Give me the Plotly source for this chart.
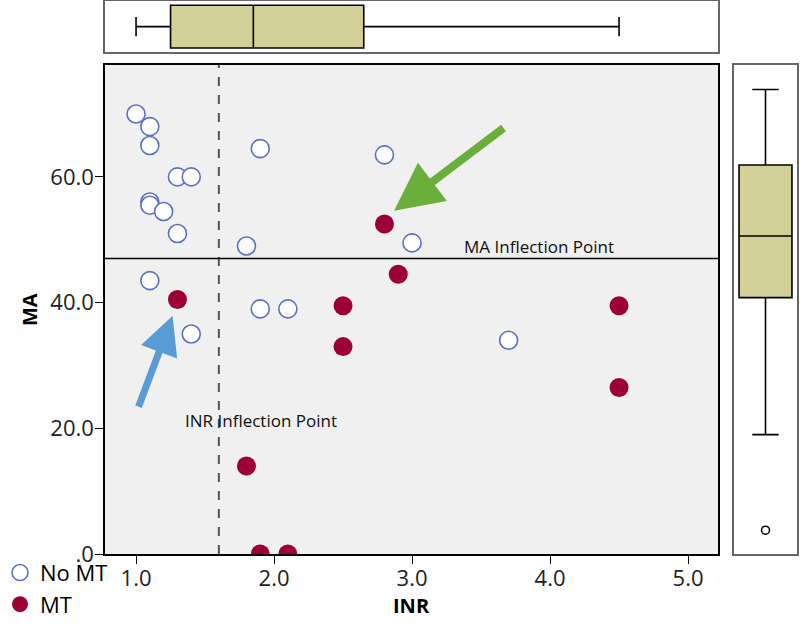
import plotly.graph_objects as go

# scatter data
NO_MT_INR = [1.0, 1.1, 1.1, 1.3, 1.4, 1.1, 1.1, 1.2, 1.3, 1.9, 2.8, 1.8, 3.0, 1.1, 1.4, 1.9, 2.1, 3.7]
NO_MT_MA = [70.0, 68.0, 65.0, 60.0, 60.0, 56.0, 55.5, 54.5, 51.0, 64.5, 63.5, 49.0, 49.5, 43.5, 35.0, 39.0, 39.0, 34.0]
MT_INR = [2.8, 2.9, 1.3, 2.5, 2.5, 1.8, 1.9, 2.1, 4.5, 4.5]
MT_MA = [52.5, 44.5, 40.5, 39.5, 33.0, 14.0, 0.0, 0.0, 39.5, 26.5]

# marginal box plot summaries (lower whisker, q1, median, q3, upper whisker)
INR_BOX = [1.0, 1.25, 1.85, 2.65, 4.5]
MA_BOX = [19.0, 40.8, 50.6, 61.9, 73.9]
MA_OUTLIERS = [3.8]

INR_CUT = 1.6
MA_CUT = 47.0

X_TICKS = [1, 2, 3, 4, 5]
X_TICKTEXT = ["1.0", "2.0", "3.0", "4.0", "5.0"]
Y_TICKS = [0, 20, 40, 60]
Y_TICKTEXT = [".0", "20.0", "40.0", "60.0"]

X_RANGE = [0.775, 5.217]
Y_RANGE = [0, 77.8]

FONT = "Open Sans"
BOX_FILL = "#d3cf99"
OPEN_BLUE = "#5b6fc4"
MT_RED = "#9c0036"

MAIN_X = [0.13125, 0.8975]
MAIN_Y = [0.1164, 0.8963]

fig = go.Figure()

fig.add_trace(go.Scatter(
    x=NO_MT_INR, y=NO_MT_MA, mode="markers", name="No MT",
    marker=dict(size=18, color="white", line=dict(color=OPEN_BLUE, width=1.6)),
))
fig.add_trace(go.Scatter(
    x=MT_INR, y=MT_MA, mode="markers", name="MT",
    marker=dict(size=19, color=MT_RED, line=dict(width=0)),
))

# top marginal box (INR)
fig.add_trace(go.Box(
    y=[0], lowerfence=[INR_BOX[0]], q1=[INR_BOX[1]], median=[INR_BOX[2]],
    q3=[INR_BOX[3]], upperfence=[INR_BOX[4]], orientation="h",
    width=0.84, whiskerwidth=0.45, fillcolor=BOX_FILL,
    line=dict(color="black", width=1.6), xaxis="x2", yaxis="y2",
    showlegend=False, hoverinfo="skip",
))
# right marginal box (MA)
fig.add_trace(go.Box(
    x=[0], lowerfence=[MA_BOX[0]], q1=[MA_BOX[1]], median=[MA_BOX[2]],
    q3=[MA_BOX[3]], upperfence=[MA_BOX[4]],
    width=0.84, whiskerwidth=0.5, fillcolor=BOX_FILL,
    line=dict(color="black", width=1.6), xaxis="x3", yaxis="y3",
    showlegend=False, hoverinfo="skip",
))
fig.add_trace(go.Scatter(
    x=[0] * len(MA_OUTLIERS), y=MA_OUTLIERS, mode="markers", xaxis="x3", yaxis="y3",
    marker=dict(size=8, color="white", line=dict(color="black", width=1.5)),
    showlegend=False, hoverinfo="skip",
))

# grey background only for the main panel
fig.add_shape(type="rect", xref="x domain", yref="y domain", x0=0, x1=1, y0=0, y1=1,
              fillcolor="#f0f0f0", line=dict(width=0), layer="below")

# inflection lines
fig.add_shape(type="line", xref="x", yref="y domain", x0=INR_CUT, x1=INR_CUT,
              y0=0, y1=1, line=dict(color="#555555", width=2, dash="dash"))
fig.add_shape(type="line", xref="x domain", yref="y", x0=0, x1=1,
              y0=MA_CUT, y1=MA_CUT, line=dict(color="black", width=1.5))

fig.add_annotation(x=3.36, y=48.9, xref="x", yref="y", text="MA Inflection Point",
                   showarrow=False, xanchor="left", yanchor="middle",
                   font=dict(family=FONT, size=17, color="#111111"))
fig.add_annotation(x=1.34, y=21.3, xref="x", yref="y", text="INR Inflection Point",
                   showarrow=False, xanchor="left", yanchor="middle",
                   font=dict(family=FONT, size=17, color="#111111"))

# arrows pointing at the highlighted patients
fig.add_annotation(x=2.87, y=54.6, ax=3.674, ay=67.96, xref="x", yref="y",
                   axref="x", ayref="y", text="", showarrow=True,
                   arrowhead=2, arrowsize=1.2, arrowwidth=8, arrowcolor="#6aaf3c", standoff=0)
fig.add_annotation(x=1.265, y=37.9, ax=1.014, ay=23.2, xref="x", yref="y",
                   axref="x", ayref="y", text="", showarrow=True,
                   arrowhead=2, arrowsize=1.1, arrowwidth=7, arrowcolor="#5b9bd5", standoff=0)

# axis titles
fig.add_annotation(x=0.514, y=0.035, xref="paper", yref="paper", text="<b>INR</b>",
                   showarrow=False, xanchor="center", yanchor="middle",
                   font=dict(family=FONT, size=20, color="black"))
fig.add_annotation(x=0.0375, y=0.5056, xref="paper", yref="paper", text="<b>MA</b>",
                   showarrow=False, textangle=-90, xanchor="center", yanchor="middle",
                   font=dict(family=FONT, size=20, color="black"))

panel = dict(showline=True, mirror=True, linecolor="#666666", linewidth=1.5,
             showgrid=False, zeroline=False, showticklabels=False, ticks="")

fig.update_layout(
    template="none",
    width=800, height=627,
    margin=dict(l=0, r=0, t=0, b=0),
    paper_bgcolor="white",
    plot_bgcolor="white",
    font=dict(family=FONT, color="#222222"),
    showlegend=True,
    legend=dict(
        xref="paper", yref="paper", x=0, y=0.12,
        xanchor="left", yanchor="top", bgcolor="rgba(0,0,0,0)",
        font=dict(family=FONT, size=22, color="black"),
        tracegroupgap=0, itemwidth=30,
    ),
    xaxis=dict(
        domain=MAIN_X, range=X_RANGE, anchor="y",
        tickvals=X_TICKS, ticktext=X_TICKTEXT, ticks="outside", ticklen=8,
        ticklabelstandoff=-4,
        tickcolor="black", showline=True, mirror=True, linecolor="black", linewidth=1.5,
        showgrid=False, zeroline=False, tickfont=dict(family=FONT, size=22, color="#222222"),
    ),
    yaxis=dict(
        domain=MAIN_Y, range=Y_RANGE, anchor="x",
        tickvals=Y_TICKS, ticktext=Y_TICKTEXT, ticks="outside", ticklen=8,
        ticklabelstandoff=-3,
        tickcolor="black", showline=True, mirror=True, linecolor="black", linewidth=1.5,
        showgrid=False, zeroline=False, tickfont=dict(family=FONT, size=22, color="#222222"),
    ),
    xaxis2=dict(domain=MAIN_X, range=X_RANGE, anchor="y2", **panel),
    yaxis2=dict(domain=[0.917, 0.998], range=[-0.5, 0.5], anchor="x2", **panel),
    xaxis3=dict(domain=[0.9175, 0.99625], range=[-0.5, 0.5], anchor="y3", **panel),
    yaxis3=dict(domain=MAIN_Y, range=Y_RANGE, anchor="x3", **panel),
)

# the page's default body margin would shift the figure, drop it
fig.write_html("out.html", config={"displayModeBar": False},
               post_script="document.body.style.margin='0';")
